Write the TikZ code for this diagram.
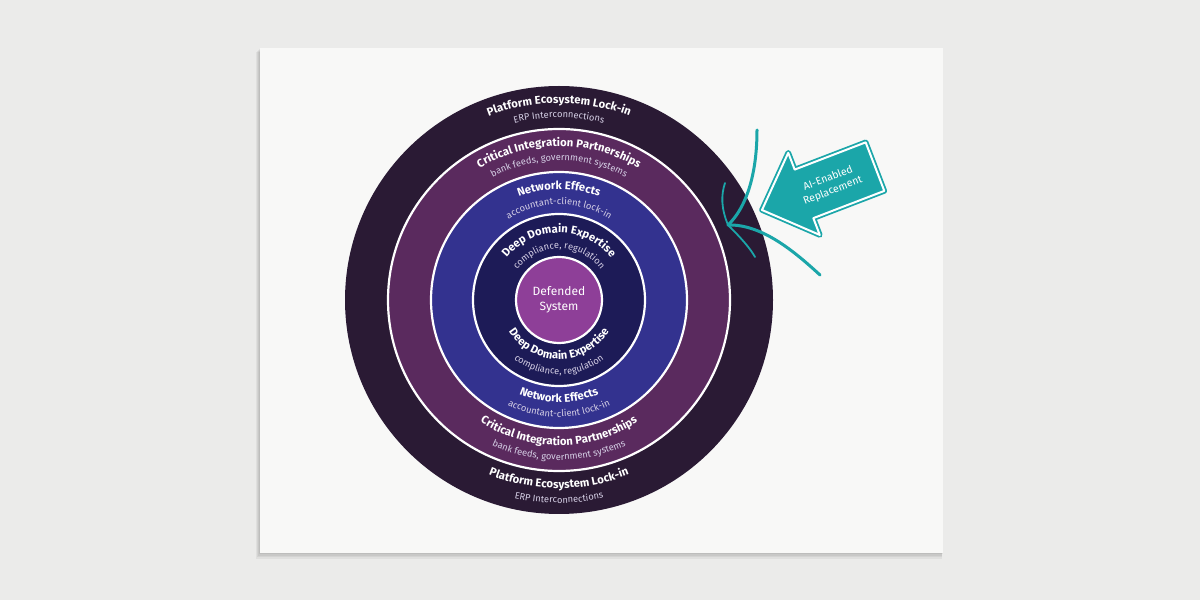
\documentclass[tikz,border=0pt]{standalone}
\usepackage{fontspec}
\setmainfont{Fira Sans}
\usetikzlibrary{decorations.text}

\definecolor{wallgrey}{HTML}{EBEBEA}
\definecolor{cardwhite}{HTML}{F8F8F7}
\definecolor{ringouter}{HTML}{2A1A34}
\definecolor{ringplum}{HTML}{5A2A5E}
\definecolor{ringblue}{HTML}{33328F}
\definecolor{ringnavy}{HTML}{1D1B57}
\definecolor{corepink}{HTML}{8E3F98}
\definecolor{aiteal}{HTML}{1BA6A9}
\definecolor{subgrey}{HTML}{D6D0E6}

\newcommand\ringtitle{\fontsize{11.3}{13}\selectfont\bfseries}
\newcommand\ringsub{\fontsize{9.3}{11}\selectfont}

\begin{document}
\begin{tikzpicture}[x=1pt,y=1pt,
  ring/.style={draw=white,line width=2.2pt},
  ttl/.style={decorate,decoration={text along path,text align=center,text color=white}},
  sbt/.style={decorate,decoration={text along path,text align=center,text color=subgrey}},
  feed/.style={draw=aiteal,line width=3pt,line cap=round}]

\useasboundingbox[fill=wallgrey] (0,0) rectangle (1200,600);

% card and its shadow
\foreach \d in {1,2,3,4}
  \fill[black,opacity=0.05] (260-\d,47-1.5*\d) rectangle (943-0.3*\d,552-\d);
\fill[cardwhite] (260,47) rectangle (943,552);

% rings
\coordinate (c) at (559,300);
\fill[ringouter] (c) circle (214);
\path[fill=ringplum,ring] (c) circle (171);
\path[fill=ringblue,ring] (c) circle (128);
\path[fill=ringnavy,ring] (c) circle (86);
\path[fill=corepink,ring] (c) circle (43);

\node (core) at (c) [align=center,text=white,font=\fontsize{12}{15}\selectfont] {Defended\\System};

% upper labels
\path[ttl,decoration={text={|\ringtitle|Platform Ecosystem Lock-in}}] (c) ++(170:196.8) arc[start angle=170,end angle=10,radius=196.8];
\path[sbt,decoration={text={|\ringsub|ERP Interconnections}}] (c) ++(170:182.4) arc[start angle=170,end angle=10,radius=182.4];
\path[ttl,decoration={text={|\ringtitle|Critical Integration Partnerships}}] (c) ++(170:153.8) arc[start angle=170,end angle=10,radius=153.8];
\path[sbt,decoration={text={|\ringsub|bank feeds, government systems}}] (c) ++(170:139.4) arc[start angle=170,end angle=10,radius=139.4];
\path[ttl,decoration={text={|\ringtitle|Network Effects}}] (c) ++(170:110.8) arc[start angle=170,end angle=10,radius=110.8];
\path[sbt,decoration={text={|\ringsub|accountant-client lock-in}}] (c) ++(170:95.4) arc[start angle=170,end angle=10,radius=95.4];
\path[ttl,decoration={text={|\ringtitle|Deep Domain Expertise}}] (c) ++(170:67) arc[start angle=170,end angle=10,radius=67];
\path[sbt,decoration={text={|\ringsub|compliance, regulation}}] (c) ++(170:51.6) arc[start angle=170,end angle=10,radius=51.6];

% lower labels
\path[ttl,decoration={text={|\ringtitle|Platform Ecosystem Lock-in}}] (c) ++(190:188.2) arc[start angle=190,end angle=350,radius=188.2];
\path[sbt,decoration={text={|\ringsub|ERP Interconnections}}] (c) ++(190:203) arc[start angle=190,end angle=350,radius=203];
\path[ttl,decoration={text={|\ringtitle|Critical Integration Partnerships}}] (c) ++(190:145.2) arc[start angle=190,end angle=350,radius=145.2];
\path[sbt,decoration={text={|\ringsub|bank feeds, government systems}}] (c) ++(190:160) arc[start angle=190,end angle=350,radius=160];
\path[ttl,decoration={text={|\ringtitle|Network Effects}}] (c) ++(190:102.2) arc[start angle=190,end angle=350,radius=102.2];
\path[sbt,decoration={text={|\ringsub|accountant-client lock-in}}] (c) ++(190:117) arc[start angle=190,end angle=350,radius=117];
\path[ttl,decoration={text={|\ringtitle|Deep Domain Expertise}}] (c) ++(190:59.2) arc[start angle=190,end angle=350,radius=59.2];
\path[sbt,decoration={text={|\ringsub|compliance, regulation}}] (c) ++(190:74.5) arc[start angle=190,end angle=350,radius=74.5];

% attack lines
\coordinate (hit) at (728,375);
\coordinate (feedtop) at (757,470);
\coordinate (feedlow) at (820,325);
\coordinate (barbup) at (725,417);
\coordinate (barblow) at (755,343);
\draw[feed] (feedtop) .. controls (757,425) and (746,392) .. (hit);
\draw[feed] (feedlow) .. controls (795,348) and (762,376) .. (hit);
\draw[feed,line width=1.8pt] (hit) .. controls (721,392) and (721,405) .. (barbup);
\draw[feed,line width=1.8pt] (hit) .. controls (741,362) and (750,352) .. (barblow);

% block arrow
\begin{scope}[shift={(762,390)},rotate=21]
  \path[fill=aiteal,draw=aiteal,double=white,double distance=2pt,line width=1.8pt,line join=round]
    (0,0) -- (45,44) -- (45,26) -- (121,26) -- (121,-26) -- (45,-26) -- (45,-44) -- cycle;
  \node (ai) at (73,-1) [rotate=21,align=center,text=white,font=\fontsize{10.5}{13}\selectfont] {AI-Enabled\\Replacement};
\end{scope}

\end{tikzpicture}
\end{document}
